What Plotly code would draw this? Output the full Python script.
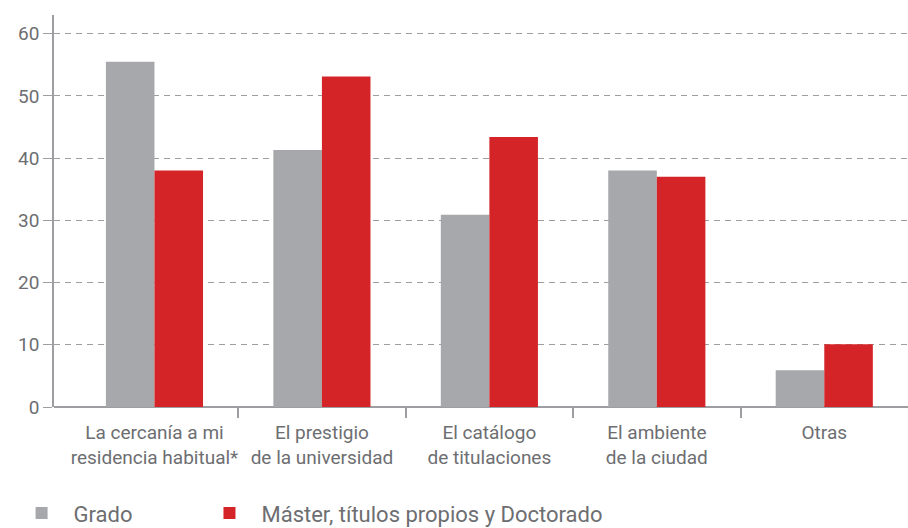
import plotly.graph_objects as go

categories = ["La cercanía a mi<br>residencia habitual*", "El prestigio<br>de la universidad",
              "El catálogo<br>de titulaciones", "El ambiente<br>de la ciudad", "Otras"]
grado = [55.5, 41.3, 30.9, 38.0, 5.9]
master = [38.0, 53.1, 43.4, 37.0, 10.1]
series_names = ["Grado", "Máster, títulos propios y Doctorado"]
y_ticks = [0, 10, 20, 30, 40, 50, 60]
boundary_ticks = [0.5, 1.5, 2.5, 3.5]

GRAY = "#a7a8ab"
RED = "#d42428"
TXT = "#6d6e71"
AX = "#9d9ea1"
FONT = "Roboto, sans-serif"

fig = go.Figure()
fig.add_trace(go.Bar(x=categories, y=grado, name=series_names[0], marker_color=GRAY,
                     marker_line_width=0, legend="legend"))
fig.add_trace(go.Bar(x=categories, y=master, name=series_names[1], marker_color=RED,
                     marker_line_width=0, legend="legend2"))
# invisible trace to carry the boundary-tick axis
fig.add_trace(go.Scatter(x=[0], y=[0], xaxis="x2", mode="markers", marker_opacity=0,
                         showlegend=False, hoverinfo="skip"))

legend_common = dict(orientation="h", xanchor="left", y=-0.271, yanchor="middle",
                     font=dict(size=22, color=TXT), itemwidth=54, bgcolor="rgba(0,0,0,0)")

fig.update_layout(
    width=908, height=528,
    margin=dict(l=54, r=0, t=15, b=121, autoexpand=False),
    plot_bgcolor="white", paper_bgcolor="white",
    barmode="group", bargap=0.42, bargroupgap=0,
    font=dict(family=FONT, size=19, color=TXT),
    xaxis=dict(type="category", range=[-0.6, 4.5], showgrid=False, ticks="",
               showline=False, tickfont=dict(size=19, color=TXT), ticklabelstandoff=12,
               automargin=False),
    xaxis2=dict(overlaying="x", anchor="y", side="bottom", range=[-0.6, 4.5],
                tickmode="array", tickvals=boundary_ticks, showticklabels=False,
                ticks="outside", ticklen=10, tickcolor=AX, tickwidth=1.5,
                showgrid=False, zeroline=False, showline=False, automargin=False),
    yaxis=dict(range=[0, 63], tickmode="array", tickvals=y_ticks, showgrid=True,
               gridcolor=AX, griddash="6px,5px", gridwidth=1.3,
               zeroline=True, zerolinecolor=AX, zerolinewidth=2,
               showline=True, linecolor=AX, linewidth=1.5,
               ticks="outside", ticklen=9, tickcolor=AX, tickwidth=1.3,
               tickfont=dict(size=19, color=TXT), automargin=False),
    legend=dict(x=-0.052, **legend_common),
    legend2=dict(x=0.168, **legend_common),
    showlegend=True,
)

fig.write_html("out.html", config={"displayModeBar": False},
               post_script="document.body.style.margin='0';")
